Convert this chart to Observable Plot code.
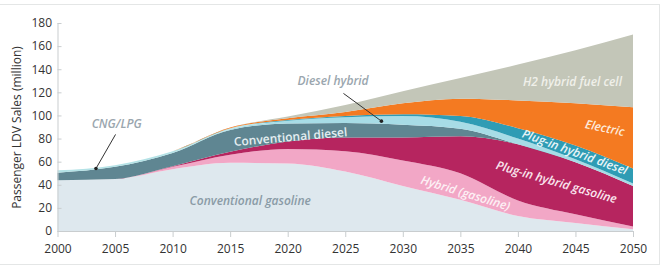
<!DOCTYPE html>
<html>
<head>
<meta charset="utf-8">
<script src="https://cdn.jsdelivr.net/npm/d3@7"></script>
<script src="https://cdn.jsdelivr.net/npm/@observablehq/plot@0.6"></script>
<style>
  html, body { margin: 0; padding: 0; background: #fff; }
  #wrap { position: relative; width: 666px; height: 269px; overflow: hidden; }
  #frame { position: absolute; left: -2px; top: 4px; width: 662px; height: 261px; border: 1px solid #e4e6e6; box-sizing: border-box; pointer-events: none; }
  #chart { position: absolute; left: 0; top: 0; }
</style>
</head>
<body>
<div id="wrap"><div id="frame"></div><div id="chart"></div></div>
<script>
const years = [2000, 2005, 2010, 2015, 2020, 2025, 2030, 2035, 2040, 2045, 2050];
const seriesNames = ["Conventional gasoline", "Hybrid (gasoline)", "Plug-in hybrid gasoline", "Conventional diesel", "Diesel hybrid", "CNG/LPG", "Plug-in hybrid diesel", "Electric", "H2 hybrid fuel cell"];
const conventionalGasoline = [44, 45, 53.5, 59, 58.5, 51.5, 39, 27, 13, 7, 1.5];
const hybridGasoline       = [0, 0, 2, 7, 12.5, 17.5, 22, 23, 13.5, 7.5, 2.5];
const plugInGasoline       = [0, 0, 0.5, 2.5, 6.5, 12, 20, 32, 48.5, 45, 35];
const conventionalDiesel   = [6.5, 10.5, 11.5, 19, 15.5, 12.5, 11, 6.5, 0, 0, 0];
const dieselHybrid         = [0, 0, 0, 0.5, 2.5, 5, 7.5, 6, 5, 2.5, 2];
const cngLpg               = [2, 1.5, 1.5, 1, 0, 0, 0, 0, 0, 0, 0];
const plugInDiesel         = [0, 0, 0, 0, 0.5, 1, 1.5, 5, 9, 12, 13];
const electric             = [0, 0, 0, 0.5, 1.5, 3.5, 9.5, 15, 24, 36.5, 53];
const h2FuelCell           = [0, 0, 0, 0, 1.5, 6, 10.5, 18, 31, 46, 63];
const yTicks = [0, 20, 40, 60, 80, 100, 120, 140, 160, 180];
const xTicks = [2000, 2005, 2010, 2015, 2020, 2025, 2030, 2035, 2040, 2045, 2050];
const colors = ["#dee8ee", "#f2a7c6", "#b6255f", "#5f8692", "#a7dce6", "#b3e2e6", "#2f9cb4", "#f47a21", "#c3c6b8"];

const seriesValues = [conventionalGasoline, hybridGasoline, plugInGasoline, conventionalDiesel, dieselHybrid, cngLpg, plugInDiesel, electric, h2FuelCell];
const table = [];
seriesNames.forEach((s, i) => years.forEach((yr, j) => table.push({series: s, year: yr, value: seriesValues[i][j]})));

const font = "'Open Sans', 'Noto Sans', sans-serif";
function label(text, x, y, opts) {
  return Plot.text([{x, y}], Object.assign({x: "x", y: "y", text: () => text, fontSize: 12, fontStyle: "italic", fontWeight: 600, fontFamily: font}, opts));
}

const chart = Plot.plot({
  width: 666,
  height: 269,
  marginLeft: 57.5,
  marginRight: 33,
  marginTop: 23,
  marginBottom: 38,
  style: {fontFamily: font, fontSize: "12px", color: "#333", background: "transparent"},
  x: {domain: [2000, 2050]},
  y: {domain: [0, 180]},
  color: {domain: seriesNames, range: colors},
  marks: [
    Plot.areaY(table, {x: "year", y: "value", z: "series", fill: "series", order: seriesNames, curve: "monotone-x"}),
    Plot.ruleX([2000], {stroke: "#c9cdcf", strokeWidth: 1}),
    Plot.ruleY([0], {stroke: "#c9cdcf", strokeWidth: 1}),
    Plot.axisY({ticks: yTicks, tickSize: -4, tickPadding: 10, stroke: "#c9cdcf", label: "Passenger LDV Sales (million)", labelAnchor: "center", labelArrow: "none", labelOffset: 46, fontSize: 12}),
    Plot.axisX({ticks: xTicks, tickFormat: "d", tickSize: 6, tickPadding: 7, stroke: "#c9cdcf", label: null, fontSize: 12}),
    Plot.link([{x1: 2005, y1: 84, x2: 2003.3, y2: 54.5}], {x1: "x1", y1: "y1", x2: "x2", y2: "y2", stroke: "#333", strokeWidth: 1}),
    Plot.dot([{x: 2003.3, y: 54.5}], {x: "x", y: "y", r: 1.8, fill: "#222"}),
    Plot.link([{x1: 2024.8, y1: 119.5, x2: 2028.1, y2: 95.5}], {x1: "x1", y1: "y1", x2: "x2", y2: "y2", stroke: "#333", strokeWidth: 1}),
    Plot.dot([{x: 2028.1, y: 95.5}], {x: "x", y: "y", r: 1.8, fill: "#222"}),
    label("Conventional gasoline", 2016.7, 26, {fill: "#8a9ba6"}),
    label("Conventional diesel", 2020.2, 81.5, {fill: "#e4eef1", rotate: -5, fontStyle: "normal"}),
    label("Diesel hybrid", 2023.9, 130, {fill: "#9aa6ae"}),
    label("CNG/LPG", 2005.1, 92.7, {fill: "#9aa6ae"}),
    label("H2 hybrid fuel cell", 2044.7, 129, {fill: "#f0f0ea"}),
    label("Electric", 2047.5, 89.3, {fill: "#fde9da", rotate: 12}),
    label("Plug-in hybrid diesel", 2044.9, 68.5, {fill: "#e8f5f8", rotate: 20}),
    label("Plug-in hybrid gasoline", 2043.3, 42.5, {fill: "#fbe6ee", rotate: 16}),
    label("Hybrid (gasoline)", 2035.4, 33, {fill: "#fdf0f5", rotate: 17})
  ]
});
document.getElementById("chart").append(chart);
</script>
</body>
</html>
